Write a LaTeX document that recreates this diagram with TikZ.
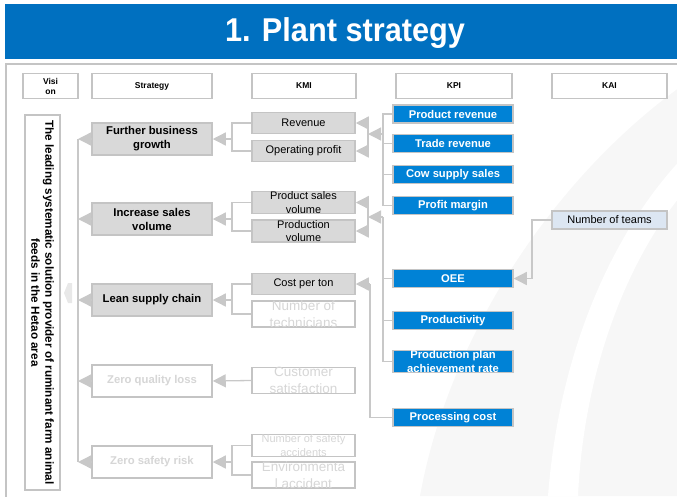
\documentclass[tikz,border=0pt]{standalone}
\usepackage{fontspec}
\setmainfont{Liberation Sans}
\usetikzlibrary{arrows.meta}

\definecolor{titleblue}{RGB}{0,112,192}
\definecolor{kpiblue}{RGB}{0,130,214}
\definecolor{boxgray}{RGB}{217,217,217}
\definecolor{boxline}{RGB}{196,196,196}
\definecolor{linegray}{RGB}{200,200,200}
\definecolor{fadetext}{RGB}{214,214,214}
\definecolor{kaiblue}{RGB}{220,230,242}
\definecolor{bgshade}{RGB}{247,247,247}

\tikzset{
  hdr/.style={draw=boxline, line width=1.2pt, fill=white, minimum height=25pt,
    inner sep=0pt, align=center, font=\fontsize{8.5}{10}\selectfont\bfseries},
  strat/.style={draw=boxline, line width=1.5pt, fill=boxgray, minimum width=120pt,
    minimum height=32pt, inner sep=0pt, align=center,
    font=\fontsize{11.3}{14}\selectfont\bfseries},
  stratoff/.style={strat, fill=white, text=fadetext},
  kmi/.style={draw=boxline, line width=1.5pt, fill=boxgray, minimum width=103pt,
    minimum height=21pt, inner sep=0pt, align=center,
    font=\fontsize{11}{13.5}\selectfont},
  kmioff/.style={kmi, fill=white, text=fadetext},
  kmibig/.style={kmioff, font=\fontsize{13.5}{16.5}\selectfont},
  kpi/.style={draw=boxline, line width=1.5pt, fill=kpiblue, text=white,
    minimum width=120pt, minimum height=18pt, inner sep=0pt, align=center,
    font=\fontsize{11.2}{13.5}\selectfont\bfseries},
  kai/.style={draw=boxline, line width=1.5pt, fill=kaiblue, minimum width=115pt,
    minimum height=18pt, inner sep=0pt, font=\fontsize{11}{12}\selectfont},
  line/.style={draw=linegray, line width=1.3pt},
  arr/.style={line, -{Triangle[length=13pt,width=13pt]}},
}

\begin{document}
\begin{tikzpicture}[x=1pt, y=-1pt]
\useasboundingbox (0,0) rectangle (677,496);

% background
\fill[bgshade] (420,496) .. controls (450,330) and (560,170) .. (690,80) -- (690,496) -- cycle;
\fill[white] (548,496) .. controls (560,340) and (620,220) .. (690,150) -- (690,185) .. controls (640,240) and (585,350) .. (578,496) -- cycle;
\draw[boxline, line width=2pt] (6,64) rectangle (700,520);

% title
\fill[titleblue] (5,4) rectangle (690,59);
\node[text=white, xscale=0.93, font=\fontsize{33}{36}\selectfont\bfseries] (title) at (345,33) {1. Plant strategy};

% column heads
\node[hdr, minimum width=55pt] (hVis) at (50.5,86) {Visi\\on};
\node[hdr, minimum width=120pt] (hStr) at (152,86) {Strategy};
\node[hdr, minimum width=104pt] (hKmi) at (304,86) {KMI};
\node[hdr, minimum width=116pt] (hKpi) at (454,86) {KPI};
\node[hdr, minimum width=115pt] (hKai) at (609.5,86) {KAI};

% vision
\node[draw=boxline, line width=1.5pt, fill=white, rotate=-90, minimum width=375pt,
  minimum height=35pt, inner sep=0pt, align=center,
  font=\fontsize{11.7}{14}\selectfont\bfseries] (vision) at (42.5,302.5)
  {The leading systematic solution provider of ruminant farm animal\\feeds in the Hetao area};

% strategy
\node[strat] (sGrowth) at (152,139) {Further business\\growth};
\node[strat] (sSales) at (152,219) {Increase sales\\volume};
\node[strat] (sLean) at (152,300) {Lean supply chain};
\node[stratoff] (sQuality) at (152,381) {Zero quality loss};
\node[stratoff] (sSafety) at (152,462) {Zero safety risk};

% KMI
\node[kmi] (kRev) at (303.5,123) {Revenue};
\node[kmi] (kOp) at (303.5,151) {Operating profit};
\node[kmi] (kPsv) at (303.5,202.5) {Product sales\\volume};
\node[kmi] (kPv) at (303.5,231) {Production\\volume};
\node[kmi] (kCost) at (303.5,284) {Cost per ton};
\node[kmibig] (kTech) at (303.5,314) {Number of\\technicians};
\node[kmibig] (kCust) at (303.5,380.5) {Customer\\satisfaction};
\node[kmioff] (kAcc) at (303.5,445.5) {Number of safety\\accidents};
\node[kmibig] (kEnv) at (303.5,475) {Environmenta\\l accident};

% KPI
\node[kpi] (pProdRev) at (453,114) {Product revenue};
\node[kpi] (pTrade) at (453,143.5) {Trade revenue};
\node[kpi] (pCow) at (453,174.5) {Cow supply sales};
\node[kpi] (pMargin) at (453,205.5) {Profit margin};
\node[kpi] (pOEE) at (453,278.5) {OEE};
\node[kpi] (pProd) at (453,320.5) {Productivity};
\node[kpi] (pPlan) at (453,361.5) {Production plan\\achievement rate};
\node[kpi] (pProc) at (453,417.5) {Processing cost};

% KAI
\node[kai] (aTeams) at (609.5,220) {Number of teams};

% junctions
\coordinate (jVis) at (78,293);
\coordinate (jsA) at (232,139);
\coordinate (jsB) at (232,219);
\coordinate (jsC) at (232,300);
\coordinate (jsE) at (232,462);
\coordinate (jkA) at (368,134);
\coordinate (jkB) at (368,217);
\coordinate (jpA) at (383,134);
\coordinate (jpB) at (383,217);
\coordinate (jpC) at (370,284);
\coordinate (jKai) at (532,250);

% strategy -> vision
\draw[line] (sGrowth.west -| jVis) -- (sSafety.west -| jVis);
\draw[arr] (sGrowth.west) -- (sGrowth.west -| jVis);
\draw[arr] (sSales.west) -- (sSales.west -| jVis);
\draw[arr] (sLean.west) -- (sLean.west -| jVis);
\draw[arr] (sQuality.west) -- (sQuality.west -| jVis);
\draw[arr] (sSafety.west) -- (sSafety.west -| jVis);
\fill[gray!18] (64,293) -- (68,283) -- (72,283) -- (72,303) -- (68,303) -- cycle;

% KMI -> strategy
\draw[line] (kRev.west) -| (jsA) |- (kOp.west);
\draw[arr] (jsA) -- (sGrowth.east);
\draw[line] (kPsv.west) -| (jsB) |- (kPv.west);
\draw[arr] (jsB) -- (sSales.east);
\draw[line] (kCost.west) -| (jsC) |- (kTech.west);
\draw[arr] (jsC) -- (sLean.east);
\draw[arr] (kCust.west) -- (sQuality.east);
\draw[line] (kAcc.west) -| (jsE) |- (kEnv.west);
\draw[arr] (jsE) -- (sSafety.east);

% KPI -> KMI
\draw[line] (pProdRev.west) -| (jpA) |- (pMargin.west);
\draw[line] (pTrade.west) -- (pTrade.west -| jpA);
\draw[line] (pCow.west) -- (pCow.west -| jpA);
\draw[arr] (jpA) -- (jkA);
\draw[arr] (jkA) |- (kRev.east);
\draw[arr] (jkA) |- (kOp.east);

\draw[line] (jpB) |- (pPlan.west);
\draw[line] (pOEE.west) -- (pOEE.west -| jpB);
\draw[line] (pProd.west) -- (pProd.west -| jpB);
\draw[arr] (jpB) -- (jkB);
\draw[arr] (jkB) |- (kPsv.east);
\draw[arr] (jkB) |- (kPv.east);

\draw[line] (pProc.west) -| (jpC);
\draw[arr] (jpC) -- (kCost.east);

% KAI -> KPI
\draw[arr] (aTeams.west) -| (jKai) |- (pOEE.east);
\end{tikzpicture}
\end{document}
